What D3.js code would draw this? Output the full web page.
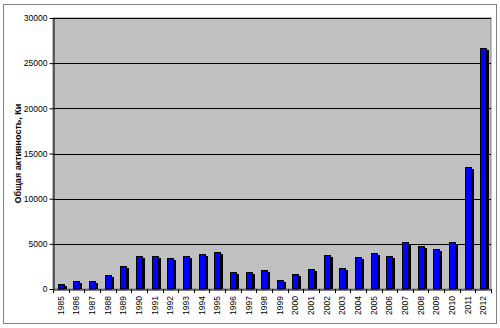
<!DOCTYPE html>
<html><head><meta charset="utf-8">
<script src="https://cdn.jsdelivr.net/npm/d3@7"></script>
<style>body{margin:0;background:#fff}svg{display:block}</style>
</head><body>
<script>
const years = ["1985","1986","1987","1988","1989","1990","1991","1992","1993","1994","1995","1996","1997","1998","1999","2000","2001","2002","2003","2004","2005","2006","2007","2008","2009","2010","2011","2012"];
const activity = [550,850,920,1580,2580,3650,3650,3450,3650,3870,4100,1850,1850,2070,960,1630,2250,3760,2360,3540,3990,3650,5150,4800,4390,5150,13540,26650];
const yTicks = [0,5000,10000,15000,20000,25000,30000];
const yTitle = "Общая активность, Ки";

const W=500,H=328;
const svg=d3.select("body").append("svg").attr("width",W).attr("height",H);
svg.append("rect").attr("x",3.5).attr("y",4.5).attr("width",493).attr("height",319).attr("fill","#fff").attr("stroke","#808080");
const L=53,R=491,T=18,B=289;
const x=d3.scaleBand().domain(years).range([L,R]).paddingInner(0).paddingOuter(0);
const y=d3.scaleLinear().domain([0,30000]).range([B,T]);
svg.append("rect").attr("x",L).attr("y",T).attr("width",R-L).attr("height",B-T).attr("fill","#c0c0c0").attr("stroke","#808080");
// gridlines
svg.append("g").selectAll("line").data(yTicks.filter(d=>d>0)).join("line")
 .attr("x1",L).attr("x2",R).attr("y1",d=>Math.round(y(d))+0.5).attr("y2",d=>Math.round(y(d))+0.5)
 .attr("stroke","#000").attr("stroke-width",1);
// bars
const bw=6;
const g=svg.append("g");
g.selectAll("rect.sh").data(activity).join("rect").attr("class","sh")
 .attr("x",(d,i)=>Math.round(x(years[i])+x.bandwidth()/2-bw/2)+2)
 .attr("y",d=>Math.round(y(d))+2).attr("width",bw+1).attr("height",d=>B-Math.round(y(d))-2).attr("fill","#000");
g.selectAll("rect.b").data(activity).join("rect").attr("class","b")
 .attr("x",(d,i)=>Math.round(x(years[i])+x.bandwidth()/2-bw/2)+0.5)
 .attr("y",d=>Math.round(y(d))+0.5).attr("width",bw).attr("height",d=>B-Math.round(y(d))-0.5)
 .attr("fill","#0000ff").attr("stroke","#000").attr("stroke-width",1);
// y axis
const ya=svg.append("g").attr("transform",`translate(${L+0.5},0)`)
 .call(d3.axisLeft(y).tickValues(yTicks).tickSize(4).tickSizeOuter(0).tickFormat(d3.format("d")));
ya.select(".domain").attr("stroke","#000");
ya.selectAll("text").attr("font-family","Arial, 'Liberation Sans', sans-serif").attr("font-size","8.5px").attr("fill","#000").attr("x",-6);
// x axis
const xa=svg.append("g").attr("transform",`translate(0,${B+0.5})`)
 .call(d3.axisBottom(x).tickSize(0).tickSizeOuter(0));
xa.select(".domain").attr("stroke","#000");
xa.selectAll(".tick line").remove();
xa.selectAll("text").attr("font-family","Arial, 'Liberation Sans', sans-serif").attr("font-size","8.5px").attr("fill","#000")
 .attr("transform","rotate(-90)").attr("x",-6.5).attr("y",0).attr("dy","0.35em").attr("text-anchor","end");
// category separator ticks
svg.append("g").selectAll("line").data(years.concat(["end"])).join("line")
 .attr("x1",(d,i)=>Math.round(L+i*x.step())+0.5).attr("x2",(d,i)=>Math.round(L+i*x.step())+0.5)
 .attr("y1",B).attr("y2",B+4).attr("stroke","#000");
// y title
svg.append("text").attr("transform",`translate(21,${(T+B)/2}) rotate(-90)`)
 .attr("text-anchor","middle").attr("font-family","Arial, 'Liberation Sans', sans-serif").attr("font-size","9px").attr("font-weight","bold")
 .text(yTitle);
</script>
</body></html>
